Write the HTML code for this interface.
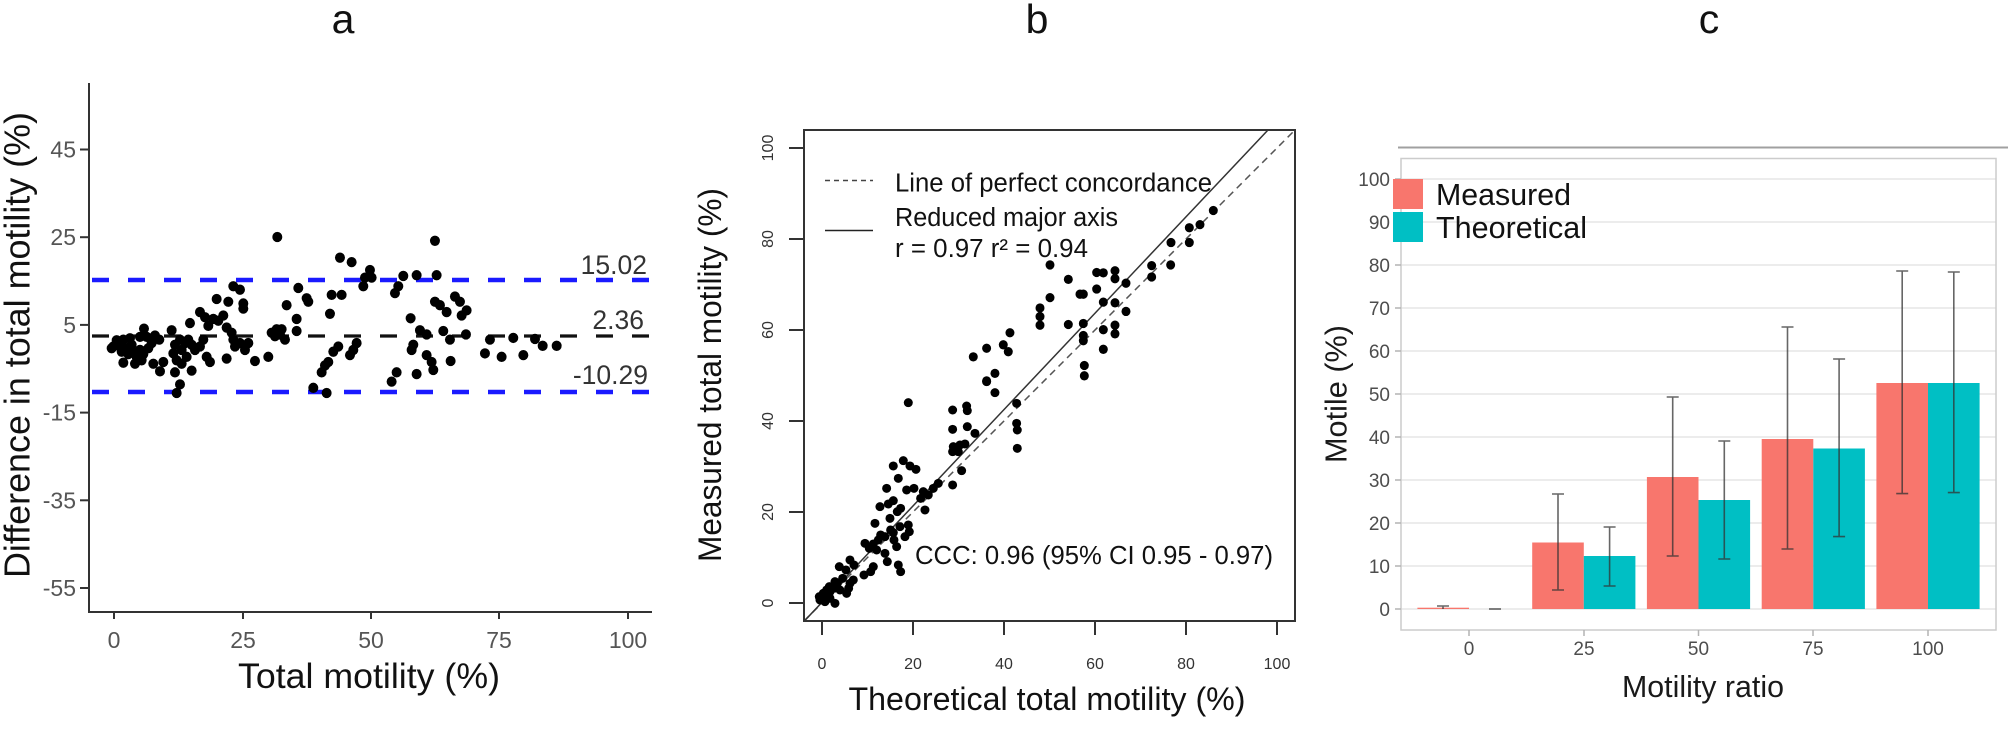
<!DOCTYPE html>
<html><head><meta charset="utf-8"><style>
html,body{margin:0;padding:0;background:#fff;}
svg{display:block;}
text{font-family:"Liberation Sans",Arial,sans-serif;}
</style></head><body>
<svg width="2008" height="729" viewBox="0 0 2008 729" xmlns="http://www.w3.org/2000/svg">
<rect width="2008" height="729" fill="#fff"/>
<!-- titles -->
<text x="343" y="33" font-size="41" text-anchor="middle" fill="#111">a</text>
<text x="1037" y="33" font-size="41" text-anchor="middle" fill="#111">b</text>
<text x="1709" y="33" font-size="41" text-anchor="middle" fill="#111">c</text>

<!-- ================= PANEL A ================= -->
<g stroke="#333" stroke-width="2" fill="none">
<line x1="89" y1="83" x2="89" y2="613"/>
<line x1="88" y1="612" x2="652" y2="612"/>
<line x1="80" y1="149.5" x2="89" y2="149.5"/>
<line x1="80" y1="237.2" x2="89" y2="237.2"/>
<line x1="80" y1="324.9" x2="89" y2="324.9"/>
<line x1="80" y1="412.6" x2="89" y2="412.6"/>
<line x1="80" y1="500.3" x2="89" y2="500.3"/>
<line x1="80" y1="588" x2="89" y2="588"/>
<line x1="114" y1="612" x2="114" y2="619"/>
<line x1="243" y1="612" x2="243" y2="619"/>
<line x1="371" y1="612" x2="371" y2="619"/>
<line x1="499" y1="612" x2="499" y2="619"/>
<line x1="628" y1="612" x2="628" y2="619"/>
</g>
<g font-size="23" fill="#555" text-anchor="end">
<text x="76" y="157.5">45</text>
<text x="76" y="245.2">25</text>
<text x="76" y="332.9">5</text>
<text x="76" y="420.6">-15</text>
<text x="76" y="508.3">-35</text>
<text x="76" y="596">-55</text>
</g>
<g font-size="23" fill="#555" text-anchor="middle">
<text x="114" y="648">0</text>
<text x="243" y="648">25</text>
<text x="371" y="648">50</text>
<text x="499" y="648">75</text>
<text x="628" y="648">100</text>
</g>
<text x="369" y="688" font-size="35" text-anchor="middle" fill="#111" textLength="262" lengthAdjust="spacingAndGlyphs">Total motility (%)</text>
<text transform="translate(29.5,345) rotate(-90)" font-size="36" text-anchor="middle" fill="#111" textLength="466" lengthAdjust="spacingAndGlyphs">Difference in total motility (%)</text>

<!-- limit lines -->
<line x1="92" y1="280" x2="656" y2="280" stroke="#1a1aff" stroke-width="4.5" stroke-dasharray="17 19"/>
<line x1="92" y1="392" x2="656" y2="392" stroke="#1a1aff" stroke-width="4.5" stroke-dasharray="17 19"/>
<line x1="92" y1="336" x2="656" y2="336" stroke="#111" stroke-width="3.2" stroke-dasharray="17 19"/>
<g font-size="26.5" fill="#333" text-anchor="end">
<text x="647" y="274">15.02</text>
<text x="644" y="329">2.36</text>
<text x="648" y="384">-10.29</text>
</g>

<!-- panel a points -->
<g fill="#000" transform="translate(0,40) scale(0.3333,0.3444)">
<circle cx="340" cy="890" r="15"/><circle cx="355" cy="880" r="15"/><circle cx="370" cy="870" r="15"/><circle cx="380" cy="895" r="15"/><circle cx="395" cy="885" r="15"/><circle cx="365" cy="905" r="15"/><circle cx="385" cy="912" r="15"/><circle cx="400" cy="905" r="15"/><circle cx="410" cy="920" r="15"/><circle cx="420" cy="900" r="15"/><circle cx="430" cy="912" r="15"/><circle cx="445" cy="895" r="15"/><circle cx="455" cy="880" r="15"/><circle cx="465" cy="858" r="15"/><circle cx="478" cy="870" r="15"/><circle cx="370" cy="937" r="15"/><circle cx="405" cy="940" r="15"/><circle cx="425" cy="930" r="15"/><circle cx="432" cy="838" r="15"/><circle cx="420" cy="862" r="15"/><circle cx="460" cy="940" r="15"/><circle cx="480" cy="962" r="15"/><circle cx="490" cy="935" r="15"/><circle cx="350" cy="872" r="15"/><circle cx="390" cy="866" r="15"/><circle cx="440" cy="862" r="15"/><circle cx="335" cy="895" r="15"/><circle cx="362" cy="892" r="15"/>
<circle cx="515" cy="843" r="15"/><circle cx="525" cy="885" r="15"/><circle cx="540" cy="870" r="15"/><circle cx="520" cy="910" r="15"/><circle cx="530" cy="930" r="15"/><circle cx="545" cy="900" r="15"/><circle cx="555" cy="880" r="15"/><circle cx="565" cy="870" r="15"/><circle cx="575" cy="885" r="15"/><circle cx="560" cy="920" r="15"/><circle cx="545" cy="940" r="15"/><circle cx="525" cy="965" r="15"/><circle cx="575" cy="960" r="15"/><circle cx="540" cy="1000" r="15"/><circle cx="530" cy="1025" r="15"/><circle cx="570" cy="822" r="15"/><circle cx="585" cy="900" r="15"/><circle cx="600" cy="890" r="15"/><circle cx="610" cy="870" r="15"/><circle cx="620" cy="920" r="15"/><circle cx="630" cy="935" r="15"/><circle cx="600" cy="790" r="15"/><circle cx="615" cy="805" r="15"/><circle cx="625" cy="830" r="15"/><circle cx="640" cy="810" r="15"/><circle cx="655" cy="815" r="15"/><circle cx="650" cy="752" r="15"/><circle cx="685" cy="760" r="15"/><circle cx="670" cy="800" r="15"/><circle cx="680" cy="835" r="15"/><circle cx="695" cy="850" r="15"/><circle cx="700" cy="870" r="15"/><circle cx="705" cy="890" r="15"/><circle cx="720" cy="880" r="15"/><circle cx="735" cy="900" r="15"/><circle cx="745" cy="880" r="15"/><circle cx="680" cy="925" r="15"/><circle cx="700" cy="715" r="15"/><circle cx="720" cy="725" r="15"/><circle cx="730" cy="765" r="15"/><circle cx="730" cy="780" r="15"/><circle cx="765" cy="932" r="15"/><circle cx="805" cy="920" r="15"/>
<circle cx="832" cy="572" r="15"/><circle cx="860" cy="770" r="15"/><circle cx="895" cy="720" r="15"/><circle cx="920" cy="750" r="15"/><circle cx="925" cy="760" r="15"/><circle cx="890" cy="810" r="15"/><circle cx="830" cy="840" r="15"/><circle cx="840" cy="855" r="15"/><circle cx="825" cy="860" r="15"/><circle cx="855" cy="870" r="15"/><circle cx="890" cy="845" r="15"/><circle cx="815" cy="850" r="15"/><circle cx="845" cy="840" r="15"/>
<circle cx="940" cy="1010" r="15"/><circle cx="980" cy="1025" r="15"/><circle cx="965" cy="965" r="15"/><circle cx="975" cy="945" r="15"/><circle cx="985" cy="935" r="15"/><circle cx="990" cy="795" r="15"/><circle cx="995" cy="740" r="15"/><circle cx="1025" cy="740" r="15"/><circle cx="1000" cy="905" r="15"/><circle cx="1015" cy="890" r="15"/><circle cx="1020" cy="632" r="15"/><circle cx="1055" cy="645" r="15"/><circle cx="1050" cy="915" r="15"/><circle cx="1060" cy="900" r="15"/><circle cx="1070" cy="880" r="15"/><circle cx="1090" cy="715" r="15"/><circle cx="1095" cy="690" r="15"/><circle cx="1110" cy="668" r="15"/><circle cx="1115" cy="690" r="15"/>
<circle cx="1175" cy="992" r="15"/><circle cx="1190" cy="965" r="15"/><circle cx="1185" cy="735" r="15"/><circle cx="1195" cy="715" r="15"/><circle cx="1210" cy="685" r="15"/><circle cx="1250" cy="683" r="15"/><circle cx="1232" cy="808" r="15"/><circle cx="1240" cy="885" r="15"/><circle cx="1235" cy="900" r="15"/><circle cx="1250" cy="970" r="15"/><circle cx="1260" cy="843" r="15"/><circle cx="1280" cy="855" r="15"/><circle cx="1280" cy="915" r="15"/><circle cx="1295" cy="935" r="15"/><circle cx="1300" cy="958" r="15"/><circle cx="1305" cy="583" r="15"/><circle cx="1310" cy="683" r="15"/><circle cx="1305" cy="760" r="15"/><circle cx="1320" cy="770" r="15"/><circle cx="1340" cy="790" r="15"/><circle cx="1330" cy="845" r="15"/><circle cx="1350" cy="870" r="15"/><circle cx="1352" cy="932" r="15"/><circle cx="1365" cy="745" r="15"/><circle cx="1380" cy="760" r="15"/><circle cx="1385" cy="800" r="15"/><circle cx="1400" cy="785" r="15"/><circle cx="1398" cy="855" r="15"/><circle cx="1455" cy="910" r="15"/><circle cx="1470" cy="870" r="15"/><circle cx="1505" cy="920" r="15"/><circle cx="1540" cy="865" r="15"/>
</g>
<g fill="#000" transform="translate(520,40) scale(0.3333,0.3444)">
<circle cx="10" cy="915" r="15"/><circle cx="45" cy="868" r="15"/><circle cx="68" cy="888" r="15"/><circle cx="110" cy="888" r="15"/>
</g>

<!-- ================= PANEL B ================= -->
<defs><clipPath id="cb"><rect x="804" y="130" width="491" height="491"/></clipPath></defs>
<g clip-path="url(#cb)">
<line x1="804" y1="621" x2="1295" y2="130" stroke="#555" stroke-width="1.5" stroke-dasharray="7 5"/>
<line x1="804" y1="621.4" x2="1268" y2="130" stroke="#333" stroke-width="1.5"/>
</g>
<rect x="804" y="130" width="491" height="491" fill="none" stroke="#333" stroke-width="2"/>
<g stroke="#333" stroke-width="2">
<line x1="789" y1="603" x2="804" y2="603"/>
<line x1="789" y1="512" x2="804" y2="512"/>
<line x1="789" y1="421" x2="804" y2="421"/>
<line x1="789" y1="330" x2="804" y2="330"/>
<line x1="789" y1="239" x2="804" y2="239"/>
<line x1="789" y1="148" x2="804" y2="148"/>
<line x1="822" y1="621" x2="822" y2="635"/>
<line x1="913" y1="621" x2="913" y2="635"/>
<line x1="1004" y1="621" x2="1004" y2="635"/>
<line x1="1095" y1="621" x2="1095" y2="635"/>
<line x1="1186" y1="621" x2="1186" y2="635"/>
<line x1="1277" y1="621" x2="1277" y2="635"/>
</g>
<g font-size="16" fill="#333" text-anchor="middle">
<text transform="translate(773,603) rotate(-90)">0</text>
<text transform="translate(773,512) rotate(-90)">20</text>
<text transform="translate(773,421) rotate(-90)">40</text>
<text transform="translate(773,330) rotate(-90)">60</text>
<text transform="translate(773,239) rotate(-90)">80</text>
<text transform="translate(773,148) rotate(-90)">100</text>
<text x="822" y="669">0</text>
<text x="913" y="669">20</text>
<text x="1004" y="669">40</text>
<text x="1095" y="669">60</text>
<text x="1186" y="669">80</text>
<text x="1277" y="669">100</text>
</g>
<text x="1047" y="710" font-size="32" text-anchor="middle" fill="#111" textLength="397" lengthAdjust="spacingAndGlyphs">Theoretical total motility (%)</text>
<text transform="translate(721,375) rotate(-90)" font-size="32" text-anchor="middle" fill="#111" textLength="374" lengthAdjust="spacingAndGlyphs">Measured total motility (%)</text>
<!-- legend -->
<line x1="825" y1="180.5" x2="873" y2="180.5" stroke="#444" stroke-width="1.5" stroke-dasharray="5 4"/>
<line x1="825" y1="230.5" x2="873" y2="230.5" stroke="#222" stroke-width="1.5"/>
<g font-size="25.5" fill="#111">
<text x="895" y="191.5" textLength="317" lengthAdjust="spacingAndGlyphs">Line of perfect concordance</text>
<text x="895" y="226" textLength="223" lengthAdjust="spacingAndGlyphs">Reduced major axis</text>
<text x="895" y="257" textLength="193" lengthAdjust="spacingAndGlyphs">r = 0.97  r² = 0.94</text>
<text x="915" y="564" textLength="358" lengthAdjust="spacingAndGlyphs">CCC: 0.96 (95% CI 0.95 - 0.97)</text>
</g>
<!-- panel b points -->
<g fill="#000" transform="translate(520,40) scale(0.3333,0.3444)">
<circle cx="1470" cy="850" r="13.5"/><circle cx="1400" cy="895" r="13.5"/><circle cx="1360" cy="920" r="13.5"/><circle cx="1450" cy="885" r="13.5"/><circle cx="1465" cy="905" r="13.5"/><circle cx="1425" cy="968" r="13.5"/><circle cx="1400" cy="990" r="13.5"/>
</g>
<g fill="#000" transform="translate(1040,60) scale(0.3333,0.3444)">
<circle cx="520" cy="437" r="13.5"/><circle cx="480" cy="478" r="13.5"/><circle cx="448" cy="487" r="13.5"/><circle cx="448" cy="530" r="13.5"/><circle cx="393" cy="530" r="13.5"/><circle cx="392" cy="595" r="13.5"/><circle cx="335" cy="597" r="13.5"/><circle cx="335" cy="630" r="13.5"/><circle cx="258" cy="648" r="13.5"/><circle cx="258" cy="730" r="13.5"/><circle cx="225" cy="612" r="13.5"/><circle cx="225" cy="635" r="13.5"/><circle cx="190" cy="618" r="13.5"/><circle cx="170" cy="617" r="13.5"/><circle cx="170" cy="665" r="13.5"/><circle cx="130" cy="680" r="13.5"/><circle cx="120" cy="680" r="13.5"/><circle cx="30" cy="595" r="13.5"/><circle cx="30" cy="690" r="13.5"/><circle cx="85" cy="637" r="13.5"/><circle cx="0" cy="720" r="13.5"/><circle cx="0" cy="745" r="13.5"/><circle cx="0" cy="770" r="13.5"/><circle cx="85" cy="768" r="13.5"/><circle cx="190" cy="703" r="13.5"/><circle cx="225" cy="705" r="13.5"/><circle cx="130" cy="765" r="13.5"/><circle cx="130" cy="800" r="13.5"/><circle cx="130" cy="815" r="13.5"/><circle cx="190" cy="783" r="13.5"/><circle cx="225" cy="770" r="13.5"/><circle cx="225" cy="795" r="13.5"/><circle cx="190" cy="840" r="13.5"/><circle cx="133" cy="887" r="13.5"/><circle cx="133" cy="917" r="13.5"/>
</g>
<g fill="#000" transform="translate(560,380) scale(0.3333)">
<circle cx="1045" cy="68" r="13.5"/><circle cx="1178" cy="90" r="13.5"/><circle cx="1220" cy="78" r="13.5"/><circle cx="1222" cy="92" r="13.5"/><circle cx="1178" cy="148" r="13.5"/><circle cx="1222" cy="140" r="13.5"/><circle cx="1245" cy="160" r="13.5"/><circle cx="1180" cy="200" r="13.5"/><circle cx="1200" cy="195" r="13.5"/><circle cx="1215" cy="192" r="13.5"/><circle cx="1178" cy="215" r="13.5"/><circle cx="1195" cy="215" r="13.5"/><circle cx="1205" cy="272" r="13.5"/><circle cx="1178" cy="315" r="13.5"/>
<circle cx="1370" cy="70" r="13.5"/><circle cx="1370" cy="130" r="13.5"/><circle cx="1372" cy="150" r="13.5"/><circle cx="1372" cy="205" r="13.5"/><circle cx="1280" cy="5" r="13.5"/><circle cx="1305" cy="38" r="13.5"/>
<circle cx="1000" cy="258" r="13.5"/><circle cx="1030" cy="242" r="13.5"/><circle cx="1050" cy="258" r="13.5"/><circle cx="1068" cy="268" r="13.5"/>
<circle cx="1015" cy="295" r="13.5"/><circle cx="980" cy="325" r="13.5"/><circle cx="1040" cy="330" r="13.5"/><circle cx="1062" cy="325" r="13.5"/><circle cx="1090" cy="335" r="13.5"/><circle cx="1105" cy="345" r="13.5"/><circle cx="1120" cy="325" r="13.5"/><circle cx="1135" cy="310" r="13.5"/><circle cx="1082" cy="355" r="13.5"/><circle cx="1095" cy="390" r="13.5"/>
<circle cx="1045" cy="435" r="13.5"/><circle cx="1048" cy="455" r="13.5"/>
<circle cx="960" cy="380" r="13.5"/><circle cx="985" cy="372" r="13.5"/><circle cx="1000" cy="362" r="13.5"/><circle cx="1012" cy="395" r="13.5"/><circle cx="1022" cy="385" r="13.5"/><circle cx="990" cy="415" r="13.5"/><circle cx="945" cy="430" r="13.5"/><circle cx="962" cy="465" r="13.5"/><circle cx="975" cy="470" r="13.5"/><circle cx="992" cy="450" r="13.5"/><circle cx="1002" cy="480" r="13.5"/><circle cx="1020" cy="440" r="13.5"/><circle cx="1035" cy="470" r="13.5"/><circle cx="1010" cy="500" r="13.5"/><circle cx="1000" cy="458" r="13.5"/>
<circle cx="940" cy="492" r="13.5"/><circle cx="955" cy="480" r="13.5"/><circle cx="915" cy="490" r="13.5"/><circle cx="928" cy="505" r="13.5"/><circle cx="950" cy="510" r="13.5"/><circle cx="975" cy="520" r="13.5"/><circle cx="982" cy="545" r="13.5"/><circle cx="1015" cy="555" r="13.5"/><circle cx="1022" cy="575" r="13.5"/><circle cx="940" cy="560" r="13.5"/><circle cx="932" cy="575" r="13.5"/><circle cx="912" cy="585" r="13.5"/>
<circle cx="870" cy="540" r="13.5"/><circle cx="882" cy="555" r="13.5"/><circle cx="858" cy="570" r="13.5"/><circle cx="838" cy="560" r="13.5"/><circle cx="848" cy="595" r="13.5"/><circle cx="880" cy="600" r="13.5"/><circle cx="866" cy="625" r="13.5"/><circle cx="832" cy="610" r="13.5"/><circle cx="822" cy="625" r="13.5"/><circle cx="808" cy="620" r="13.5"/><circle cx="790" cy="640" r="13.5"/><circle cx="800" cy="630" r="13.5"/><circle cx="778" cy="650" r="13.5"/>
</g>
<g fill="#000" transform="translate(560,560) scale(0.3333)">
<circle cx="780" cy="120" r="13.5"/><circle cx="790" cy="110" r="13.5"/><circle cx="800" cy="100" r="13.5"/><circle cx="810" cy="95" r="13.5"/><circle cx="825" cy="130" r="13.5"/><circle cx="840" cy="90" r="13.5"/><circle cx="860" cy="100" r="13.5"/><circle cx="870" cy="70" r="13.5"/><circle cx="825" cy="65" r="13.5"/><circle cx="795" cy="125" r="13.5"/><circle cx="810" cy="115" r="13.5"/>
</g>

<!-- ================= PANEL C ================= -->
<line x1="1398" y1="147.5" x2="2008" y2="147.5" stroke="#a0a0a0" stroke-width="2"/>
<g stroke="#e6e6e6" stroke-width="1.5">
<line x1="1401" y1="179" x2="1996" y2="179"/>
<line x1="1401" y1="222" x2="1996" y2="222"/>
<line x1="1401" y1="265" x2="1996" y2="265"/>
<line x1="1401" y1="308" x2="1996" y2="308"/>
<line x1="1401" y1="351" x2="1996" y2="351"/>
<line x1="1401" y1="394" x2="1996" y2="394"/>
<line x1="1401" y1="437" x2="1996" y2="437"/>
<line x1="1401" y1="480" x2="1996" y2="480"/>
<line x1="1401" y1="523" x2="1996" y2="523"/>
<line x1="1401" y1="566" x2="1996" y2="566"/>
<line x1="1401" y1="609" x2="1996" y2="609"/>
</g>
<!-- bars -->
<g fill="#F8766D">
<rect x="1417.4" y="607.7" width="51.6" height="1.3"/>
<rect x="1532.2" y="542.5" width="51.6" height="66.5"/>
<rect x="1646.9" y="477" width="51.6" height="132"/>
<rect x="1761.7" y="439" width="51.6" height="170"/>
<rect x="1876.4" y="383" width="51.6" height="226"/>
</g>
<g fill="#00BFC4">
<rect x="1583.8" y="556" width="51.6" height="53"/>
<rect x="1698.5" y="500" width="51.6" height="109"/>
<rect x="1813.3" y="448.5" width="51.6" height="160.5"/>
<rect x="1928" y="383" width="51.6" height="226"/>
</g>
<!-- error bars -->
<g stroke="#333" stroke-opacity="0.75" stroke-width="1.6" fill="none">
<path d="M1443 606V609M1437 606H1449"/>
<path d="M1489 609H1501"/>
<path d="M1558 494V590M1552 494H1564M1552 590H1564"/>
<path d="M1609.6 527V586M1603.6 527H1615.6M1603.6 586H1615.6"/>
<path d="M1672.7 397V556M1666.7 397H1678.7M1666.7 556H1678.7"/>
<path d="M1724.3 441V559M1718.3 441H1730.3M1718.3 559H1730.3"/>
<path d="M1787.5 327V549M1781.5 327H1793.5M1781.5 549H1793.5"/>
<path d="M1839.1 359V536.6M1833.1 359H1845.1M1833.1 536.6H1845.1"/>
<path d="M1902.2 271V493.6M1896.2 271H1908.2M1896.2 493.6H1908.2"/>
<path d="M1953.8 272V492.6M1947.8 272H1959.8M1947.8 492.6H1959.8"/>
</g>
<rect x="1401" y="158.5" width="595" height="471.5" fill="none" stroke="#cccccc" stroke-width="1.5"/>
<g stroke="#b3b3b3" stroke-width="1.5">
<line x1="1395" y1="179" x2="1401" y2="179"/><line x1="1395" y1="222" x2="1401" y2="222"/><line x1="1395" y1="265" x2="1401" y2="265"/><line x1="1395" y1="308" x2="1401" y2="308"/><line x1="1395" y1="351" x2="1401" y2="351"/><line x1="1395" y1="394" x2="1401" y2="394"/><line x1="1395" y1="437" x2="1401" y2="437"/><line x1="1395" y1="480" x2="1401" y2="480"/><line x1="1395" y1="523" x2="1401" y2="523"/><line x1="1395" y1="566" x2="1401" y2="566"/><line x1="1395" y1="609" x2="1401" y2="609"/>
<line x1="1469" y1="630" x2="1469" y2="636"/><line x1="1584" y1="630" x2="1584" y2="636"/><line x1="1698.5" y1="630" x2="1698.5" y2="636"/><line x1="1813" y1="630" x2="1813" y2="636"/><line x1="1928" y1="630" x2="1928" y2="636"/>
</g>
<g font-size="19" fill="#4d4d4d" text-anchor="end">
<text x="1390" y="186">100</text>
<text x="1390" y="229">90</text>
<text x="1390" y="272">80</text>
<text x="1390" y="315">70</text>
<text x="1390" y="358">60</text>
<text x="1390" y="401">50</text>
<text x="1390" y="444">40</text>
<text x="1390" y="487">30</text>
<text x="1390" y="530">20</text>
<text x="1390" y="573">10</text>
<text x="1390" y="616">0</text>
</g>
<g font-size="19" fill="#4d4d4d" text-anchor="middle">
<text x="1469" y="655">0</text>
<text x="1584" y="655">25</text>
<text x="1698.5" y="655">50</text>
<text x="1813" y="655">75</text>
<text x="1928" y="655">100</text>
</g>
<text x="1703" y="697" font-size="30.5" text-anchor="middle" fill="#1a1a1a" textLength="162" lengthAdjust="spacingAndGlyphs">Motility ratio</text>
<text transform="translate(1346.5,394) rotate(-90)" font-size="30.5" text-anchor="middle" fill="#1a1a1a" textLength="138" lengthAdjust="spacingAndGlyphs">Motile (%)</text>
<!-- legend -->
<rect x="1393" y="179" width="30" height="30" fill="#F8766D"/>
<rect x="1393" y="212" width="30" height="30" fill="#00BFC4"/>
<text x="1436" y="205" font-size="30.5" fill="#111" textLength="135" lengthAdjust="spacingAndGlyphs">Measured</text>
<text x="1436" y="238" font-size="30.5" fill="#111" textLength="151" lengthAdjust="spacingAndGlyphs">Theoretical</text>
</svg>
</body></html>
